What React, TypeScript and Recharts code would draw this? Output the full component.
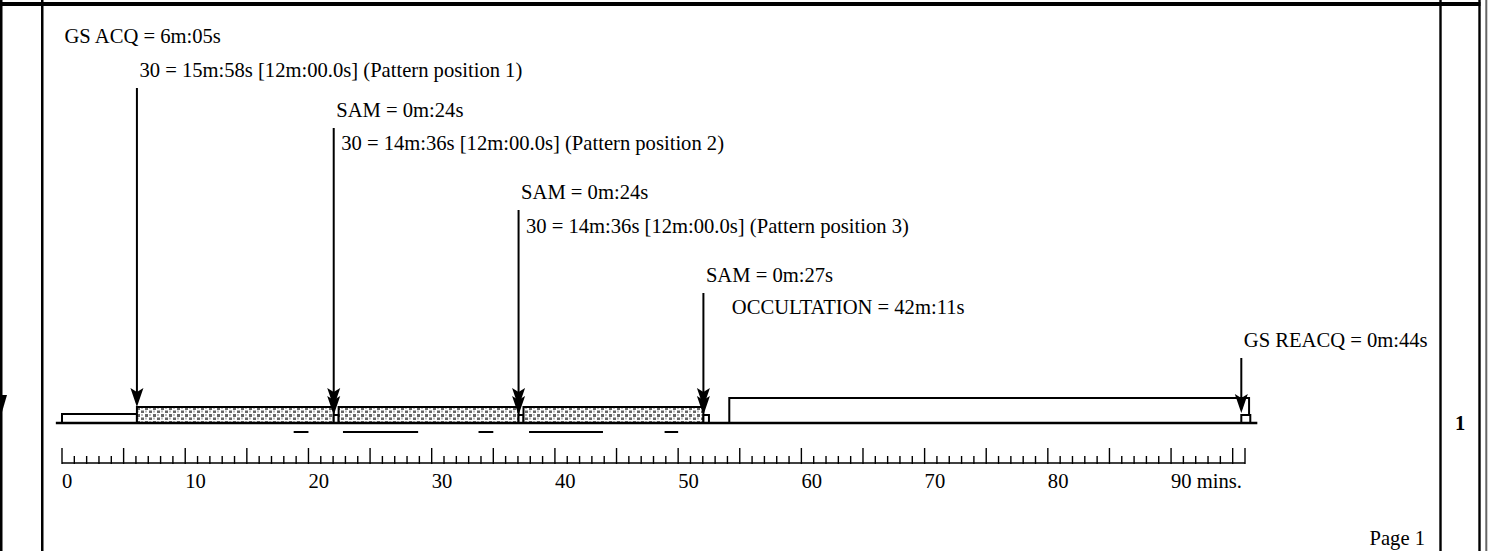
import React from "react";
import { ComposedChart, XAxis, YAxis, ReferenceArea, ReferenceLine, ReferenceDot } from "recharts";

const FONT = "'Liberation Serif', 'Times New Roman', serif";
const FS = 20.6;

// orbit timeline, minutes from start of visibility
const EVENT_KIND = ["acq", "exp", "sam", "exp", "sam", "exp", "sam", "occ", "reacq"];
const EVENT_START = [0, 6.08, 22.05, 22.45, 37.05, 37.45, 52.05, 54.15, 95.7];
const EVENT_MINUTES = [6.08, 15.97, 0.4, 14.6, 0.4, 14.6, 0.45, 42.18, 0.73];
const EVENT_LABELS = [
  "GS ACQ = 6m:05s",
  "30 = 15m:58s [12m:00.0s] (Pattern position 1)",
  "SAM = 0m:24s",
  "30 = 14m:36s [12m:00.0s] (Pattern position 2)",
  "SAM = 0m:24s",
  "30 = 14m:36s [12m:00.0s] (Pattern position 3)",
  "SAM = 0m:27s",
  "OCCULTATION = 42m:11s",
  "GS REACQ = 0m:44s",
];
// events that get a pointer arrow
const ARROW_EVENTS = [1, 2, 4, 6, 8];

// short bars under the timeline
const CONTACT_START = [18.8, 22.8, 33.8, 37.9, 48.9];
const CONTACT_END = [20.0, 28.9, 35.0, 43.9, 50.0];

const TICKS = Array.from({ length: 97 }, (_, i) => i);
const TICK_LABELS: Record<number, string> = {
  0: "0", 10: "10", 20: "20", 30: "30", 40: "40",
  50: "50", 60: "60", 70: "70", 80: "80", 90: "90 mins.",
};
const LAST_TICK = 96;

// layout (y measured in px above the timeline baseline)
const BASE_PX = 423;
const LABEL_BASELINE_PX = [43, 77, 117, 150, 199, 233, 282, 314, 347];
const BOX_HEIGHT: Record<string, number> = { acq: 9, exp: 16, sam: 8, occ: 25, reacq: 8 };
const BOX_FILL: Record<string, string> = { acq: "#fff", exp: "url(#dots)", sam: "#fff", occ: "#fff", reacq: "#fff" };

const rows = EVENT_START.map((s, i) => ({ start: s, end: s + EVENT_MINUTES[i] }));

function RulerTick(props: any) {
  const { x, y, payload } = props;
  const v = payload.value;
  const len = v % 5 === 0 || v === LAST_TICK ? 15 : 7;
  const label = TICK_LABELS[v];
  return (
    <g>
      <line x1={x} x2={x} y1={y + 1} y2={y - len} stroke="#000" strokeWidth={1.4} />
      {label && (
        <text x={x} y={y + 25} fontFamily={FONT} fontSize={FS} fill="#000">
          {label}
        </text>
      )}
    </g>
  );
}

const Head = (p: any) => (
  <polygon
    points={`${p.cx},${p.cy} ${p.cx - 6.5},${p.cy - 19} ${p.cx},${p.cy - 15} ${p.cx + 6.5},${p.cy - 19}`}
    fill="#000"
  />
);

export default function App() {
  return (
    <div style={{ position: "relative", width: 1488, height: 551, background: "#fff" }}>
      <style>{`body{margin:0}`}</style>
      <ComposedChart
        width={1488}
        height={551}
        data={rows}
        margin={{ top: 0, right: 243, bottom: 58, left: 62 }}
      >
        <defs>
          <pattern id="dots" width="8" height="7" patternUnits="userSpaceOnUse">
            <rect width="8" height="7" fill="#fff" />
            <rect x="1" y="1" width="3" height="3" fill="#666" />
            <rect x="5" y="1" width="2" height="2" fill="#bbb" />
            <rect x="5" y="4.5" width="3" height="2.5" fill="#666" />
            <rect x="1" y="4.5" width="2" height="2" fill="#bbb" />
          </pattern>
        </defs>
        <XAxis
          type="number"
          dataKey="start"
          domain={[0, 96]}
          ticks={TICKS}
          interval={0}
          tickLine={false}
          tickSize={0}
          tickMargin={0}
          height={30}
          axisLine={{ stroke: "#000", strokeWidth: 1.6 }}
          tick={<RulerTick />}
          allowDataOverflow
        />
        <YAxis type="number" hide width={0} domain={[-40, BASE_PX]} allowDataOverflow />

        <ReferenceLine
          segment={[{ x: -0.5, y: 0 }, { x: 97, y: 0 }]}
          stroke="#000"
          strokeWidth={2.5}
          ifOverflow="visible"
        />

        {EVENT_KIND.map((k, i) => (
          <ReferenceArea
            key={"box" + i}
            x1={EVENT_START[i]}
            x2={EVENT_START[i] + EVENT_MINUTES[i]}
            y1={0}
            y2={BOX_HEIGHT[k]}
            fill={BOX_FILL[k]}
            fillOpacity={1}
            stroke="#000"
            strokeWidth={2}
            ifOverflow="visible"
          />
        ))}

        {CONTACT_START.map((s, i) => (
          <ReferenceLine
            key={"c" + i}
            segment={[{ x: s, y: -9 }, { x: CONTACT_END[i], y: -9 }]}
            stroke="#000"
            strokeWidth={2}
            ifOverflow="visible"
          />
        ))}

        {ARROW_EVENTS.map((ei) => {
          const top = BASE_PX - LABEL_BASELINE_PX[ei] - 11;
          const tip = BOX_HEIGHT[EVENT_KIND[ei]] + (EVENT_KIND[ei] === "reacq" ? 2 : 0);
          return (
            <ReferenceLine
              key={"a" + ei}
              segment={[{ x: EVENT_START[ei], y: top }, { x: EVENT_START[ei], y: tip + 4 }]}
              stroke="#000"
              strokeWidth={2}
              ifOverflow="visible"
            />
          );
        })}
        {ARROW_EVENTS.map((ei) => (
          <ReferenceDot
            key={"h" + ei}
            x={EVENT_START[ei]}
            y={BOX_HEIGHT[EVENT_KIND[ei]] + (EVENT_KIND[ei] === "reacq" ? 2 : 0)}
            r={0}
            ifOverflow="visible"
            shape={Head}
          />
        ))}
        {ARROW_EVENTS.filter((ei) => EVENT_KIND[ei] === "sam").map((ei) => (
          <ReferenceDot
            key={"h2" + ei}
            x={EVENT_START[ei]}
            y={BOX_HEIGHT.exp}
            r={0}
            ifOverflow="visible"
            shape={Head}
          />
        ))}

        {EVENT_LABELS.map((label, i) => (
          <ReferenceDot
            key={"l" + i}
            x={EVENT_START[i]}
            y={BASE_PX - LABEL_BASELINE_PX[i]}
            r={0}
            ifOverflow="visible"
            shape={(p: any) => (
              <text x={p.cx + 2.5} y={p.cy} fontFamily={FONT} fontSize={FS} fill="#000">
                {label}
              </text>
            )}
          />
        ))}
      </ComposedChart>

      <svg
        width={1488}
        height={551}
        style={{ position: "absolute", left: 0, top: 0, pointerEvents: "none" }}
      >
        <rect x={0} y={2} width={1480.5} height={4} fill="#000" />
        <rect x={0} y={0} width={2.5} height={551} fill="#000" />
        <rect x={41} y={0} width={2.5} height={551} fill="#000" />
        <rect x={1439.3} y={0} width={2.4} height={551} fill="#000" />
        <rect x={1478.3} y={0} width={2.4} height={551} fill="#000" />
        <rect x={1485.3} y={0} width={2} height={551} fill="#666" />
        <polygon points="0,395 7,395 2,412 0,412" fill="#000" />
        <text x={1455} y={430} fontFamily={FONT} fontSize={FS} fontWeight="bold" fill="#000">
          1
        </text>
        <text x={1425} y={545} fontFamily={FONT} fontSize={FS} textAnchor="end" fill="#000">
          Page 1
        </text>
      </svg>
    </div>
  );
}
